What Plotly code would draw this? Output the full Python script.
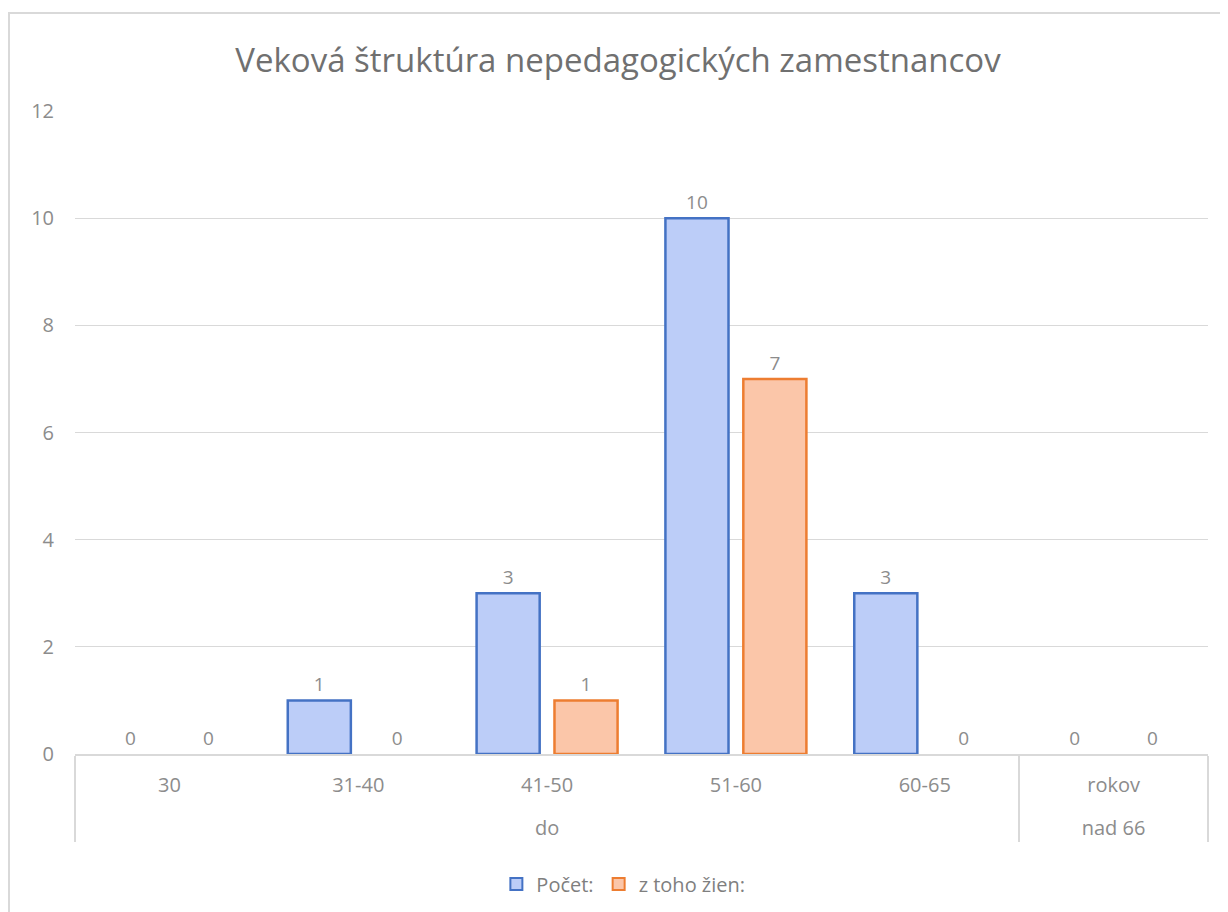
import plotly.graph_objects as go

groups = ["do", "do", "do", "do", "do", "nad 66"]
ages = ["30", "31-40", "41-50", "51-60", "60-65", "rokov"]
pocet = [0, 1, 3, 10, 3, 0]
zien = [0, 0, 1, 7, 0, 0]

FONT = "Open Sans"
TXT = "#8c8c8c"
BLUE_FILL, BLUE_LINE = "#bccdf8", "#4472c4"
ORANGE_FILL, ORANGE_LINE = "#fbc6a9", "#ed7d31"

# outer labels sit a line lower, like Excel's roomy multi-level axis
group_labels = ["<br>" + g for g in groups]

fig = go.Figure()
for name, vals, fill, edge, grp in [("Počet:", pocet, BLUE_FILL, BLUE_LINE, "a"),
                                    ("z toho žien:", zien, ORANGE_FILL, ORANGE_LINE, "b")]:
    # real bars; zero bars get no outline (Excel draws nothing for them)
    fig.add_bar(
        x=[group_labels, ages], y=vals, name=name, showlegend=False, offsetgroup=grp,
        marker=dict(color=fill, line=dict(color=edge, width=[2.5 if v else 0 for v in vals])),
        text=vals, textposition="outside", cliponaxis=False,
        textfont=dict(color=TXT, size=19, family=FONT),
    )
    # legend entry only
    fig.add_bar(
        x=[group_labels[:1], ages[:1]], y=[None], name=name, offsetgroup=grp,
        marker=dict(color=fill, line=dict(color=edge, width=2)),
    )

fig.update_layout(
    width=1220, height=904,
    paper_bgcolor="white", plot_bgcolor="white",
    margin=dict(l=67, r=20, t=103, b=158, autoexpand=False),
    font=dict(family=FONT, color=TXT, size=19),
    title=dict(text="Veková štruktúra nepedagogických zamestnancov",
               x=0.5, xanchor="center", y=1 - 52 / 904, yanchor="middle",
               font=dict(size=33, color="#707070", family=FONT)),
    barmode="group", bargap=0.175, bargroupgap=0.19,
    showlegend=True,
    legend=dict(orientation="h", x=0.484, xanchor="center", y=-130 / 643, yanchor="middle",
                font=dict(size=20, color="#7f7f7f"), itemwidth=30),
    shapes=[dict(type="rect", xref="paper", yref="paper",
                 x0=-66 / 1133, x1=1 + 60 / 1133,
                 y0=-200 / 643, y1=1 + 98 / 643,
                 line=dict(color="#d9d9d9", width=2))],
)
fig.update_xaxes(
    type="multicategory", showline=True, linecolor="#d9d9d9", linewidth=1.5,
    showdividers=True, dividercolor="#d9d9d9", dividerwidth=1.5,
    tickfont=dict(size=20, color=TXT), ticklabelstandoff=12,
)
fig.update_yaxes(
    range=[0, 12], dtick=2, showgrid=True, gridcolor="#d9d9d9", gridwidth=1,
    zeroline=False, ticklabelstandoff=20,
    tickfont=dict(size=20, color=TXT),
)

fig.write_html("out.html")
